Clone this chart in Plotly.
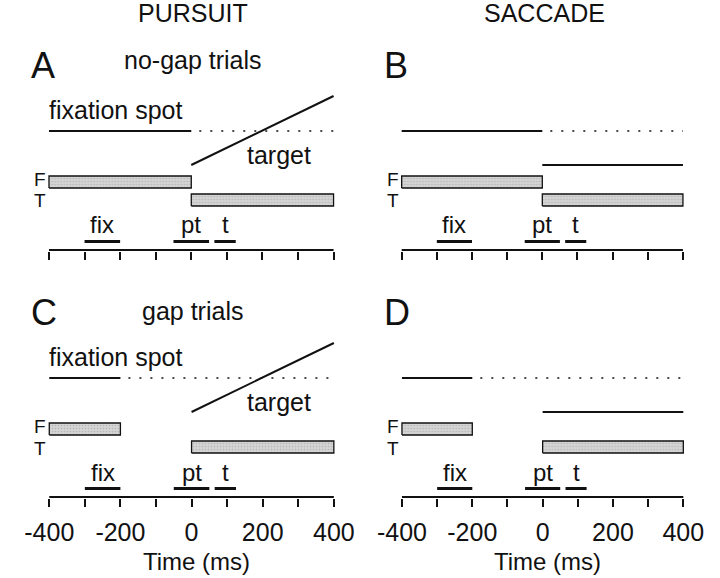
import plotly.graph_objects as go

# ---------------- data ----------------
panel_letters = ["A", "B", "C", "D"]
panel_task = ["PURSUIT", "SACCADE", "PURSUIT", "SACCADE"]
trial_type_titles = ["no-gap trials", "gap trials"]
column_titles = ["PURSUIT", "SACCADE"]

time_ticks = [-400, -300, -200, -100, 0, 100, 200, 300, 400]
time_tick_labels = ["-400", "", "-200", "", "0", "", "200", "", "400"]
time_start = -400
time_end = 400

fixation_on = [-400, -400, -400, -400]
fixation_off = [0, 0, -200, -200]
target_on = [0, 0, 0, 0]
target_off = [400, 400, 400, 400]

epoch_names = ["fix", "pt", "t"]
epoch_start = [-300, -50, 65]
epoch_end = [-200, 50, 125]

# ---------------- style / layout constants ----------------
W, H = 720, 578
FONT = "Liberation Sans, Arial, Helvetica, sans-serif"
BLACK = "#111111"
BAR_FILL = "#c9c9c9"

# rows (pixels above the time-axis baseline)
ROW_FIX = 119
ROW_TARGET_FLAT = 85
ROW_RAMP_LO = 85
ROW_RAMP_HI = 154
ROW_F = (62, 74)
ROW_T = (44, 56)
ROW_EPOCH = 8.5
ROW_EPOCH_LABEL = 25
ROW_FIXLABEL = 140
ROW_TARGETLABEL = 95
TARGET_LABEL_X = 247
F_LABEL_Y = 70.5
T_LABEL_Y = 49

PAD = 12  # ms padding each side of axis range
# pixel positions of -400 and 400 for each panel, baseline pixel row
panel_px = {
    "A": (29.5, 329.5, 250),
    "B": (401.3, 697.8, 250),
    "C": (29.8, 329.8, 497),
    "D": (401.6, 698.2, 497),
}
Y_RANGE = (-1, 160)

fig = go.Figure()
layout_axes = {}
annotations = []


def ppx(x):
    return x / W


def ppy(y):
    return 1 - y / H


for i, letter in enumerate(panel_letters):
    x0, x1, base = panel_px[letter]
    scale = (x1 - x0) / (time_end - time_start)
    dom_l = x0 - PAD * scale
    dom_r = x1 + PAD * scale
    top_px = base - Y_RANGE[1]
    bot_px = base - Y_RANGE[0]
    xa = "x" if i == 0 else f"x{i+1}"
    ya = "y" if i == 0 else f"y{i+1}"
    xkey = "xaxis" if i == 0 else f"xaxis{i+1}"
    ykey = "yaxis" if i == 0 else f"yaxis{i+1}"
    bottom_row = letter in ("C", "D")

    layout_axes[xkey] = dict(
        domain=[ppx(dom_l), ppx(dom_r)],
        range=[time_start - PAD, time_end + PAD],
        anchor=ya,
        tickmode="array",
        tickvals=time_ticks,
        ticktext=time_tick_labels,
        showticklabels=bottom_row,
        ticks="outside",
        ticklen=8,
        tickwidth=1.6,
        tickcolor=BLACK,
        ticklabelstandoff=4,
        tickfont=dict(family=FONT, size=25, color=BLACK),
        showline=False,
        showgrid=False,
        zeroline=False,
        fixedrange=True,
    )
    layout_axes[ykey] = dict(
        domain=[ppy(bot_px), ppy(top_px)],
        range=list(Y_RANGE),
        anchor=xa,
        visible=False,
        fixedrange=True,
    )

    def add_line(xs, ys, width=2, dash="solid"):
        fig.add_trace(go.Scatter(
            x=xs, y=ys, xaxis=xa, yaxis=ya, mode="lines",
            line=dict(color=BLACK, width=width, dash=dash),
            hoverinfo="skip", showlegend=False, cliponaxis=False))

    # baseline of time axis
    add_line([time_start, time_end], [0, 0], width=1.8)

    # fixation spot: on (solid), off (dotted)
    add_line([fixation_on[i], fixation_off[i]], [ROW_FIX, ROW_FIX], width=2)
    add_line([fixation_off[i], time_end], [ROW_FIX, ROW_FIX], width=1.6,
             dash="0px,8px,2px,1px")

    # target
    if panel_task[i] == "PURSUIT":
        add_line([target_on[i], target_off[i]], [ROW_RAMP_LO, ROW_RAMP_HI], width=2)
    else:
        add_line([target_on[i], target_off[i]], [ROW_TARGET_FLAT, ROW_TARGET_FLAT], width=2)

    # F and T bars
    for (on, off, row) in ((fixation_on[i], fixation_off[i], ROW_F),
                           (target_on[i], target_off[i], ROW_T)):
        fig.add_trace(go.Scatter(
            x=[on, off, off, on, on], y=[row[0], row[0], row[1], row[1], row[0]],
            xaxis=xa, yaxis=ya, mode="lines", fill="toself",
            fillcolor=BAR_FILL,
            fillpattern=dict(shape=".", fgcolor="#9a9a9a", bgcolor="#d4d4d4",
                             size=3, solidity=0.25),
            line=dict(color=BLACK, width=1.3),
            hoverinfo="skip", showlegend=False, cliponaxis=False))

    # analysis epochs
    for name, s, e in zip(epoch_names, epoch_start, epoch_end):
        add_line([s, e], [ROW_EPOCH, ROW_EPOCH], width=3)
        annotations.append(dict(
            x=(s + e) / 2, y=ROW_EPOCH_LABEL, xref=xa, yref=ya, text=name,
            showarrow=False, xanchor="center", yanchor="middle",
            font=dict(family=FONT, size=24, color=BLACK)))

    # F / T labels
    for lab, yy in (("F", F_LABEL_Y), ("T", T_LABEL_Y)):
        annotations.append(dict(
            x=time_start, y=yy, xref=xa, yref=ya, text=lab,
            showarrow=False, xanchor="right", yanchor="middle", xshift=-2,
            borderpad=0,
            font=dict(family=FONT, size=19, color=BLACK)))

    if panel_task[i] == "PURSUIT":
        annotations.append(dict(
            x=time_start, y=ROW_FIXLABEL, xref=xa, yref=ya, text="fixation spot",
            showarrow=False, xanchor="left", yanchor="middle", xshift=-2,
            font=dict(family=FONT, size=25, color=BLACK)))
        annotations.append(dict(
            x=TARGET_LABEL_X, y=ROW_TARGETLABEL, xref=xa, yref=ya, text="target",
            showarrow=False, xanchor="center", yanchor="middle",
            font=dict(family=FONT, size=25, color=BLACK)))

    # panel letter
    letter_base = base - 172
    annotations.append(dict(
        x=ppx(x0 - 21), y=ppy(letter_base - 0.35 * 36), xref="paper", yref="paper",
        text=letter, showarrow=False, xanchor="left", yanchor="middle",
        font=dict(family=FONT, size=36, color=BLACK)))

    if bottom_row:
        annotations.append(dict(
            x=ppx((x0 + x1) / 2 + 5), y=ppy(570 - 0.35 * 24), xref="paper", yref="paper",
            text="Time (ms)", showarrow=False, xanchor="center", yanchor="middle",
            font=dict(family=FONT, size=24, color=BLACK)))

# column headers
for title, cx in zip(column_titles, (181, 552)):
    annotations.append(dict(
        x=ppx(cx), y=ppy(22 - 0.35 * 25), xref="paper", yref="paper", text=title,
        showarrow=False, xanchor="center", yanchor="middle",
        font=dict(family=FONT, size=25, color=BLACK)))

# trial-type titles
for title, base_y in zip(trial_type_titles, (69, 320)):
    annotations.append(dict(
        x=ppx(181), y=ppy(base_y - 0.35 * 25), xref="paper", yref="paper", text=title,
        showarrow=False, xanchor="center", yanchor="middle",
        font=dict(family=FONT, size=25, color=BLACK)))

fig.update_layout(
    width=W, height=H,
    margin=dict(l=0, r=0, t=0, b=0),
    paper_bgcolor="white", plot_bgcolor="white",
    showlegend=False,
    annotations=annotations,
    **layout_axes,
)

fig.write_html(
    "out.html",
    config={"displayModeBar": False},
    post_script="document.body.style.margin='0px';document.body.style.overflow='hidden';",
)
